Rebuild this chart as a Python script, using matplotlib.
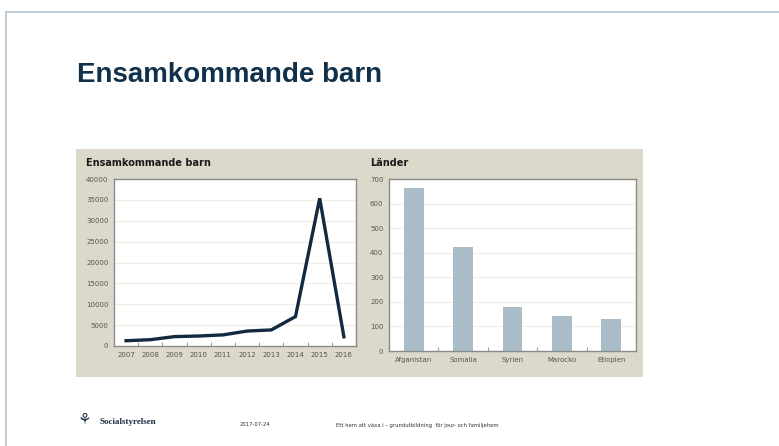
import matplotlib
matplotlib.use('Agg')
import matplotlib.pyplot as plt
from matplotlib.patches import Rectangle
from matplotlib.lines import Line2D
import numpy as np

# Data
years = ['2007', '2008', '2009', '2010', '2011', '2012', '2013', '2014', '2015', '2016']
arrivals = [1264, 1510, 2250, 2393, 2657, 3578, 3852, 7049, 35369, 2199]
countries = ['Afganistan', 'Somalia', 'Syrien', 'Marocko', 'Etiopien']
country_counts = [665, 422, 180, 143, 132]

W, H = 779, 446
fig = plt.figure(figsize=(W / 100, H / 100), dpi=100)
fig.patch.set_facecolor('white')


def box(x, y, w, h):
    # pixel box (top-left origin) -> figure fraction
    return [x / W, (H - y - h) / H, w / W, h / H]


# slide frame
border = '#b3c2cc'
fig.add_artist(Line2D([6 / W, 1], [1 - 12 / H, 1 - 12 / H], color=border, lw=1.2))
fig.add_artist(Line2D([6 / W, 6 / W], [0, 1 - 12 / H], color=border, lw=1.2))

fig.text(77 / W, 1 - 75 / H, 'Ensamkommande barn', fontsize=20, fontweight='bold',
         color='#11304a', family='Liberation Sans', va='center', ha='left')

# beige panel
panel = box(76, 149, 567, 228)
fig.add_artist(Rectangle((panel[0], panel[1]), panel[2], panel[3], transform=fig.transFigure,
                         facecolor='#dcd9cb', edgecolor='none', zorder=0))

tick_color = '#555555'
spine_color = '#8a8a8a'
grid_color = '#efede4'

# left: line chart
ax1 = fig.add_axes(box(114, 179, 242, 167))
x = np.arange(len(years))
ax1.plot(x, arrivals, color='#112a40', lw=2.4, solid_joinstyle='miter')
ax1.set_xlim(-0.5, len(years) - 0.5)
ax1.set_ylim(0, 40000)
ax1.set_yticks(np.arange(0, 40001, 5000))
ax1.set_xticks(x)
ax1.set_xticklabels(years)
ax1.set_xticks(np.arange(0.5, len(years) - 0.5, 1), minor=True)
ax1.yaxis.grid(True, color=grid_color, lw=0.8)
ax1.set_axisbelow(True)
ax1.tick_params(axis='both', labelsize=5, colors=tick_color, length=0, pad=4)
ax1.tick_params(axis='x', which='minor', length=3, direction='in', color=spine_color)
for s in ax1.spines.values():
    s.set_color(spine_color)
    s.set_linewidth(1.0)
fig.text(86 / W, 1 - 163 / H, 'Ensamkommande barn', fontsize=7, fontweight='bold',
         color='#1a1a1a', va='center', ha='left')

# right: bar chart
ax2 = fig.add_axes(box(389, 179, 247, 172))
xc = np.arange(len(countries))
ax2.bar(xc, country_counts, width=0.4, color='#a9bcc7', edgecolor='none')
ax2.set_xlim(-0.5, len(countries) - 0.5)
ax2.set_ylim(0, 700)
ax2.set_yticks(np.arange(0, 701, 100))
ax2.set_xticks(xc)
ax2.set_xticklabels(countries)
ax2.set_xticks(np.arange(0.5, len(countries) - 0.5, 1), minor=True)
ax2.yaxis.grid(True, color=grid_color, lw=0.8)
ax2.set_axisbelow(True)
ax2.tick_params(axis='both', labelsize=5, colors=tick_color, length=0, pad=4)
ax2.tick_params(axis='x', which='minor', length=3, direction='in', color=spine_color)
for s in ax2.spines.values():
    s.set_color(spine_color)
    s.set_linewidth(1.0)
fig.text(370 / W, 1 - 163 / H, 'Länder', fontsize=7, fontweight='bold',
         color='#1a1a1a', va='center', ha='left')

# footer
fig.text(78 / W, 1 - 420 / H, '⚘', fontsize=11, color='#1a2a44', va='center', ha='left')
fig.text(100 / W, 1 - 422 / H, 'Socialstyrelsen', fontsize=6.5, fontweight='bold',
         color='#1a2a44', family='Liberation Serif', va='center', ha='left')
fig.text(240 / W, 1 - 425 / H, '2017-07-24', fontsize=3.8, color='#333333',
         va='center', ha='left')
fig.text(336 / W, 1 - 425 / H, 'Ett hem att växa i – grundutbildning  för jour- och familjehem',
         fontsize=3.8, color='#333333', va='center', ha='left')

fig.savefig('out.png', dpi=100)
